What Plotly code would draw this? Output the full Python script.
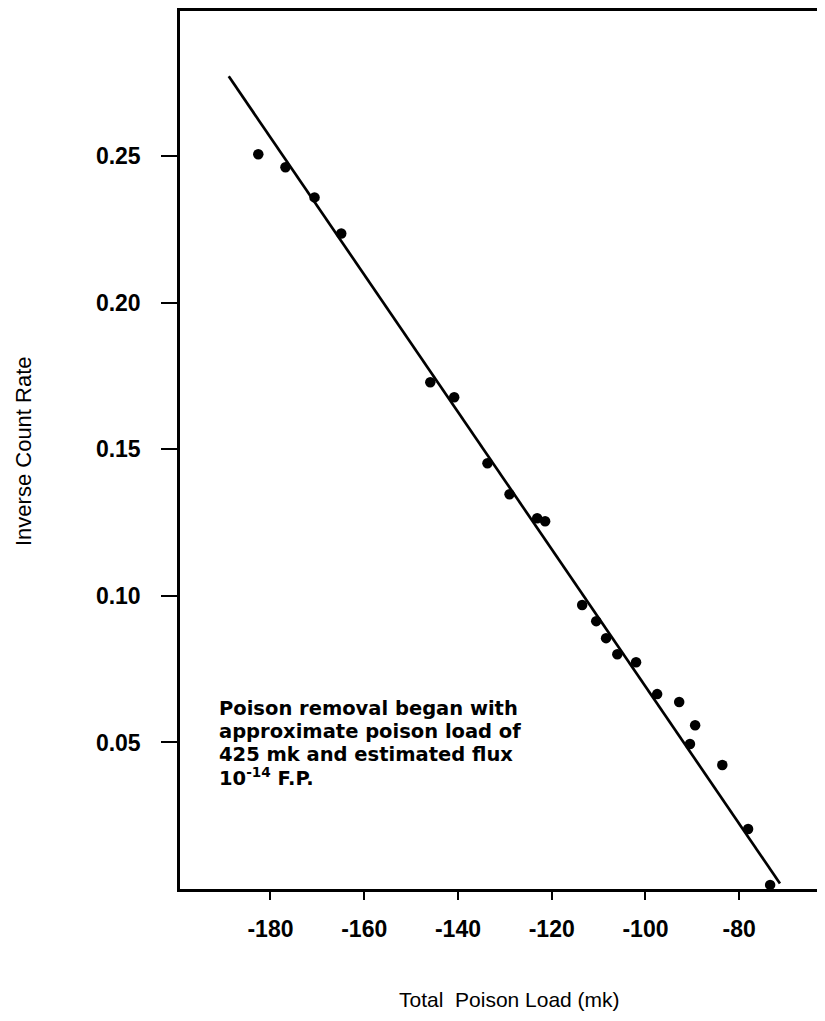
import plotly.graph_objects as go

# Measured data (Total Poison Load in mk, Inverse Count Rate)
poison_load = [-182.6, -176.8, -170.6, -164.9, -145.9, -140.8, -133.7, -129.0,
               -123.1, -121.4, -113.5, -110.5, -108.4, -106.0, -102.0, -97.5,
               -92.8, -89.4, -90.5, -83.6, -78.1, -73.4]
inverse_rate = [0.2507, 0.2463, 0.2360, 0.2237, 0.1729, 0.1678, 0.1453, 0.1347,
                0.1265, 0.1255, 0.0969, 0.0914, 0.0856, 0.0801, 0.0774, 0.0665,
                0.0638, 0.0559, 0.0495, 0.0423, 0.0205, 0.0014]

# Fitted straight line end points
fit_x = [-188.9, -71.3]
fit_y = [0.2773, 0.0019]

x_ticks = [-180, -160, -140, -120, -100, -80]
x_tick_labels = ["-180", "-160", "-140", "-120", "-100", "-80"]
y_ticks = [0.05, 0.10, 0.15, 0.20, 0.25]
y_tick_labels = ["0.05", "0.10", "0.15", "0.20", "0.25"]

note_lines = ["Poison removal began with",
              "approximate poison load of",
              "425 mk and estimated flux",
              "10<sup>-14</sup> F.P."]

# page has an 8px body margin; figure sized to fit inside the window
OFF = 8
W, H = 809, 1005
ML, MR, MT, MB = 172, 0, 3, 124
PW, PH = W - ML - MR, H - MT - MB

def px_to_paper(px, py):
    fx, fy = px - OFF, py - OFF
    return (fx - ML) / PW, (H - MB - fy) / PH

fig = go.Figure()
fig.add_trace(go.Scatter(x=fit_x, y=fit_y, mode="lines",
                         line=dict(color="black", width=2.7),
                         showlegend=False, hoverinfo="skip"))
fig.add_trace(go.Scatter(x=poison_load, y=inverse_rate, mode="markers",
                         marker=dict(color="black", size=10.5, line=dict(width=0)),
                         showlegend=False))

tick_font = dict(family="Liberation Sans", size=23, color="black", weight="bold")

fig.update_xaxes(range=[-199.3, -63.4], tickvals=x_ticks, ticktext=x_tick_labels,
                 ticks="outside", ticklen=8, tickwidth=2, tickcolor="black",
                 showline=True, linecolor="black", linewidth=2.5, mirror=True,
                 showgrid=False, zeroline=False, tickfont=tick_font,
                 ticklabelstandoff=10)
fig.update_yaxes(range=[0, 0.2996], tickvals=y_ticks, ticktext=y_tick_labels,
                 ticks="outside", ticklen=16, tickwidth=2, tickcolor="black",
                 showline=True, linecolor="black", linewidth=2.5, mirror=False,
                 showgrid=False, zeroline=False, tickfont=tick_font,
                 ticklabelstandoff=16)

annotations = []
note_font = dict(family="DejaVu Sans", size=19.5, color="black", weight="bold")
line_y = [708, 731, 754, 777]
for txt, py in zip(note_lines, line_y):
    ax, ay = px_to_paper(217, py)
    annotations.append(dict(x=ax, y=ay, xref="paper", yref="paper", text=txt,
                            showarrow=False, xanchor="left", yanchor="middle",
                            font=note_font))

tx, ty = px_to_paper(510, 999)
annotations.append(dict(x=tx, y=ty, xref="paper", yref="paper",
                        text="Total  Poison Load (mk)", showarrow=False,
                        xanchor="center", yanchor="middle",
                        font=dict(family="Liberation Sans", size=21, color="black")))
yx, yy = px_to_paper(24, 451)
annotations.append(dict(x=yx, y=yy, xref="paper", yref="paper",
                        text="Inverse Count Rate", showarrow=False, textangle=-90,
                        xanchor="center", yanchor="middle",
                        font=dict(family="Liberation Sans", size=22, color="black")))

fig.update_layout(width=W, height=H, margin=dict(l=ML, r=MR, t=MT, b=MB),
                  plot_bgcolor="white", paper_bgcolor="white",
                  annotations=annotations, showlegend=False)

fig.write_html("out.html")
